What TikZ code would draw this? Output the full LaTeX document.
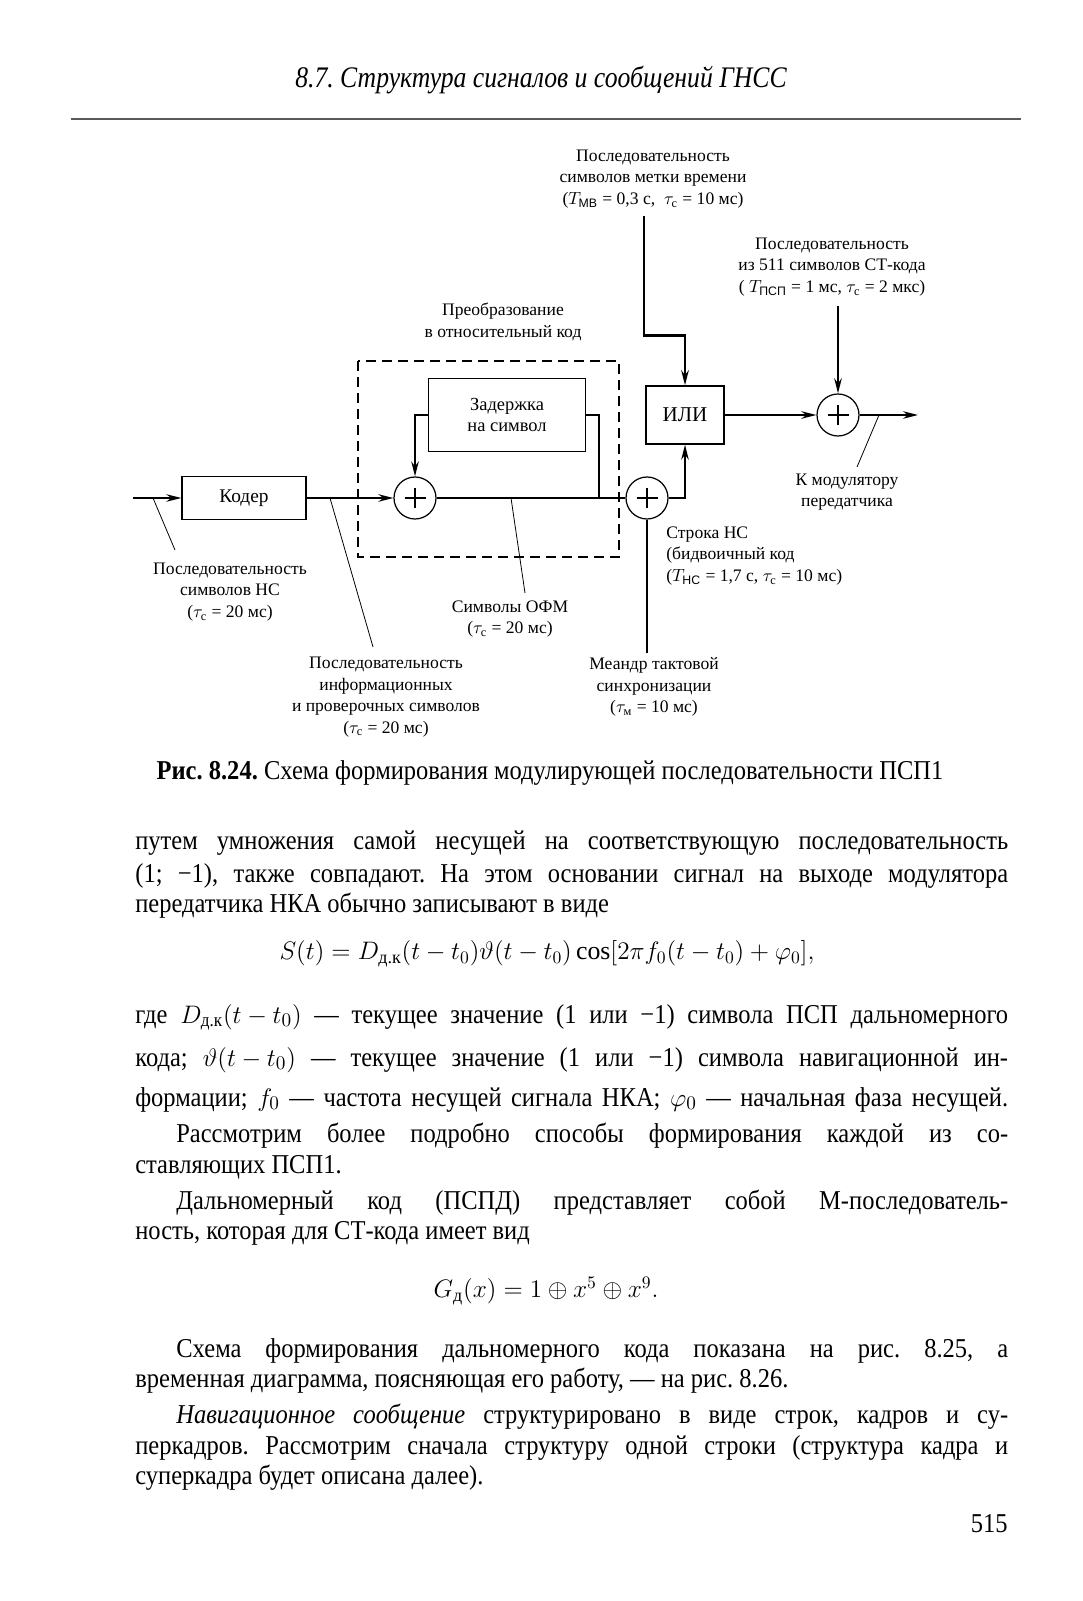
\documentclass[tikz,border=0pt]{standalone}
\usepackage{amsmath,amssymb}
\usepackage{fontspec}
\setmainfont{Liberation Serif}
\newfontfamily\condfont[FakeStretch=0.9]{Liberation Serif}
\newfontfamily\headfont[FakeStretch=0.86]{Liberation Serif}
\newfontfamily\subsf{Liberation Sans}
\usetikzlibrary{arrows.meta, positioning, calc}
\frenchspacing

\begin{document}
\begin{tikzpicture}[x=0.02cm, y=-0.02cm,
    lbl/.style={font=\fontsize{10}{12.3}\selectfont, align=center, inner sep=0pt},
    blk/.style={draw, line width=0.8pt, inner sep=0pt, align=center, font=\fontsize{11}{13}\selectfont},
    sumc/.style={draw, circle, line width=0.7pt, minimum size=0.84cm, inner sep=0pt,
        path picture={\draw[line width=0.6pt] ([xshift=-2.1mm]path picture bounding box.center) -- ([xshift=2.1mm]path picture bounding box.center)
            ([yshift=-2.1mm]path picture bounding box.center) -- ([yshift=2.1mm]path picture bounding box.center);}},
    sig/.style={line width=1.1pt},
    thk/.style={line width=1.6pt},
    ptr/.style={line width=0.45pt},
    arr/.style={-{Stealth[length=3mm, width=1.5mm]}},
    txt/.style={font=\condfont\fontsize{15.5}{18}\selectfont\frenchspacing, inner sep=0pt, anchor=mid west},
    fml/.style={font=\fontsize{14.7}{18}\selectfont, inner sep=0pt}
]
\useasboundingbox (0,0) rectangle (1082,1601);

% running head
\node[font=\headfont\itshape\fontsize{17}{20}\selectfont, inner sep=0pt] (head) at (541,80) {8.7. Структура сигналов и сообщений ГНСС};
\draw[black!65, line width=1.2pt] (71,119) -- (1021,119);

% blocks
\node[blk, minimum width=2.48cm, minimum height=0.86cm] (coder) at (244,498) {Кодер};
\node[blk, minimum width=3.14cm, minimum height=1.46cm, font=\fontsize{10.5}{12}\selectfont] (delay) at (507,415) {Задержка\\на символ};
\node[blk, minimum width=1.56cm, minimum height=1.16cm, font=\fontsize{12}{14}\selectfont] (orbox) at (685,415) {ИЛИ};
\node[sumc] (s1) at (415,498) {};
\node[sumc] (s2) at (647,498) {};
\node[sumc] (s3) at (838,415) {};
\draw[dashed, dash pattern=on 0.2cm off 0.12cm, line width=0.8pt] (358,361) rectangle (619,557);

% free ends
\coordinate (in) at (133,498);
\coordinate (j1) at (599,498);
\coordinate (tmv) at (644,216);
\coordinate (stc) at (838,306);
\coordinate (mnd) at (647,653);
\coordinate (out) at (918,415);

% signal lines
\draw[sig, arr] (in) -- (coder.west);
\draw[sig, arr] (coder.east) -- (s1.west);
\draw[sig, arr] (delay.west) -| (s1.north);
\draw[sig] (delay.east) -| (j1);
\draw[sig] (s1.east) -- (s2.west);
\draw[sig, arr] (s2.east) -| (orbox.south);
\draw[sig, arr] (orbox.east) -- (s3.west);
\draw[sig, arr] (s3.east) -- (out);
\draw[thk, arr] (tmv) |- ($(orbox.north)+(0,-50)$) -- (orbox.north);
\draw[thk, arr] (stc) -- (s3.north);
\draw[thk] (mnd) -- (s2.south);

% labels
\node[lbl] (lmv) at (653,179) {Последовательность\\символов метки времени\\($T_{\text{\subsf МВ}}$ = 0,3 с,\ \ $\tau_{\text{с}}$ = 10 мс)};
\node[lbl] (lst) at (832,267) {Последовательность\\из 511 символов СТ-кода\\( $T_{\text{\subsf ПСП}}$ = 1 мс, $\tau_{\text{с}}$ = 2 мкс)};
\node[lbl] (lconv) at (503,322) {Преобразование\\в относительный код};
\node[lbl] (lmod) at (847,492) {К модулятору\\передатчика};
\node[lbl, align=left, anchor=west] (lstr) at (666,556) {Строка НС\\(бидвоичный код\\($T_{\text{\subsf НС}}$ = 1,7 с, $\tau_{\text{с}}$ = 10 мс)};
\node[lbl] (lmnd) at (654,687) {Меандр тактовой\\синхронизации\\($\tau_{\text{м}}$ = 10 мс)};
\node[lbl] (lofm) at (510,619) {Символы ОФМ\\($\tau_{\text{с}}$ = 20 мс)};
\node[lbl] (lns) at (230,592) {Последовательность\\символов НС\\($\tau_{\text{с}}$ = 20 мс)};
\node[lbl] (linf) at (386,697) {Последовательность\\информационных\\и проверочных символов\\($\tau_{\text{с}}$ = 20 мс)};

% pointers
\coordinate (p1) at (153,498);  \coordinate (q1) at (175,550);
\coordinate (p2) at (330,498);  \coordinate (q2) at (373,647);
\coordinate (p3) at (511,498);  \coordinate (q3) at (525,593);
\coordinate (p4) at (879,415);  \coordinate (q4) at (857,467);
\draw[ptr] (p1) -- (q1);
\draw[ptr] (p2) -- (q2);
\draw[ptr] (p3) -- (q3);
\draw[ptr] (p4) -- (q4);

% caption
\node[font=\condfont\fontsize{15.5}{18}\selectfont, inner sep=0pt] (cap) at (550,773) {\textbf{Рис. 8.24.} Схема формирования модулирующей последовательности ПСП1};

% body text
\node[txt] (t1) at (135,845) {\makebox[17.46cm][s]{путем умножения самой несущей на соответствующую последовательность}};
\node[txt] (t2) at (135,878) {\makebox[17.46cm][s]{(1; −1), также совпадают. На этом основании сигнал на выходе модулятора}};
\node[txt] (t3) at (135,908) {передатчика НКА обычно записывают в виде};
\node[fml] (f1) at (547,954) {$S(t)=D_{\text{д.к}}(t-t_0)\vartheta(t-t_0)\cos[2\pi f_0(t-t_0)+\varphi_0],$};
\node[txt] (t4) at (135,1019) {\makebox[17.46cm][s]{где \mbox{$D_{\text{д.к}}(t-t_0)$} — текущее значение (1 или −1) символа ПСП дальномерного}};
\node[txt] (t5) at (135,1062) {\makebox[17.46cm][s]{кода; \mbox{$\vartheta(t-t_0)$} — текущее значение (1 или −1) символа навигационной ин-}};
\node[txt] (t6) at (135,1102) {\makebox[17.46cm][s]{формации; \mbox{$f_0$} — частота несущей сигнала НКА; \mbox{$\varphi_0$} — начальная фаза несущей.}};
\node[txt] (t7) at (176,1138) {\makebox[16.64cm][s]{Рассмотрим более подробно способы формирования каждой из со-}};
\node[txt] (t8) at (135,1169) {ставляющих ПСП1.};
\node[txt] (t9) at (176,1205) {\makebox[16.64cm][s]{Дальномерный код (ПСПД) представляет собой М-последователь-}};
\node[txt] (t10) at (135,1235) {ность, которая для СТ-кода имеет вид};
\node[fml] (f2) at (546,1291) {$G_{\text{д}}(x)=1\oplus x^5\oplus x^9.$};
\node[txt] (t11) at (176,1353) {\makebox[16.64cm][s]{Схема формирования дальномерного кода показана на рис. 8.25, а}};
\node[txt] (t12) at (135,1383) {временная диаграмма, поясняющая его работу, — на рис. 8.26.};
\node[txt] (t13) at (176,1419) {\makebox[16.64cm][s]{\textit{Навигационное сообщение} структурировано в виде строк, кадров и су-}};
\node[txt] (t14) at (135,1450) {\makebox[17.46cm][s]{перкадров. Рассмотрим сначала структуру одной строки (структура кадра и}};
\node[txt] (t15) at (135,1480) {суперкадра будет описана далее).};
\node[txt, anchor=mid east] (pg) at (1008,1528) {515};
\end{tikzpicture}
\end{document}
